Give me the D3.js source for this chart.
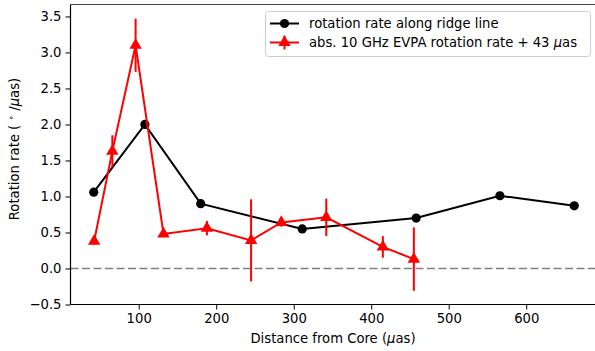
<!DOCTYPE html>
<html><head><meta charset="utf-8">
<script src="https://cdn.jsdelivr.net/npm/d3@7"></script>
<style>body{margin:0;background:#fff}svg{display:block}</style>
</head><body><svg id="c" width="595" height="351"></svg>
<script>
const ridgeX = [42, 108, 180, 311, 458, 566, 662];
const ridgeY = [1.06, 2.00, 0.90, 0.55, 0.70, 1.01, 0.87];
const evpaX = [42.5, 66, 96, 132, 188, 245, 284, 342, 415, 455];
const evpaY = [0.38, 1.63, 3.10, 0.48, 0.56, 0.39, 0.64, 0.71, 0.30, 0.13];
const evpaErr = [0.05, 0.22, 0.37, 0.03, 0.10, 0.57, 0.06, 0.26, 0.15, 0.44];
const xTicks = [100, 200, 300, 400, 500, 600];
const yTicks = [-0.5, 0.0, 0.5, 1.0, 1.5, 2.0, 2.5, 3.0, 3.5];
const legendLabels = ["rotation rate along ridge line", "abs. 10 GHz EVPA rotation rate + 43 "];

const FONT = "DejaVu Sans";
const FS = "13.2px";
const svg = d3.select("#c");
const L = 70.5, R = 620, T = 4.5, B = 304.5;
const x = d3.scaleLinear().domain([12, 721]).range([L, R]);
const y = d3.scaleLinear().domain([-0.5, 3.666]).range([B, T]);

// zero line
svg.append("line").attr("x1", L).attr("x2", R).attr("y1", y(0)).attr("y2", y(0))
  .attr("stroke", "#808080").attr("stroke-width", 1.5).attr("stroke-dasharray", "8,3.5");

// axes
const fmt = d => d3.format(".1f")(d).replace("-", "\u2212");
const xa = svg.append("g").attr("transform", `translate(0,${B})`)
  .call(d3.axisBottom(x).tickValues(xTicks).tickSize(5).tickPadding(4).tickFormat(d3.format("d")));
const ya = svg.append("g").attr("transform", `translate(${L},0)`)
  .call(d3.axisLeft(y).tickValues(yTicks).tickSize(5).tickPadding(4).tickFormat(fmt));
[xa, ya].forEach(g => {
  g.select(".domain").remove();
  g.selectAll("text").style("font-size", FS).style("font-family", FONT).attr("fill", "#000");
  g.selectAll("line").attr("stroke", "#000").attr("stroke-width", 1);
});
// spines
svg.append("line").attr("x1", L).attr("x2", L).attr("y1", T).attr("y2", B).attr("stroke", "#000").attr("stroke-width", 1.2);
svg.append("line").attr("x1", L).attr("x2", 595).attr("y1", B).attr("y2", B).attr("stroke", "#000").attr("stroke-width", 1.2);
svg.append("line").attr("x1", L).attr("x2", 595).attr("y1", T).attr("y2", T).attr("stroke", "#444").attr("stroke-width", 1.2);

// labels
const xl = svg.append("text").attr("x", 333).attr("y", 343).attr("text-anchor", "middle")
  .style("font-size", FS).style("font-family", FONT);
xl.append("tspan").text("Distance from Core (");
xl.append("tspan").style("font-style", "italic").text("\u03bc");
xl.append("tspan").text("as)");
const yl = svg.append("text").attr("transform", `translate(19,149) rotate(-90)`).attr("text-anchor", "middle")
  .style("font-size", FS).style("font-family", FONT);
yl.append("tspan").text("Rotation rate ( ");
yl.append("tspan").attr("dy", -5).style("font-size", "9px").text("\u2218");
yl.append("tspan").attr("dy", 5).text(" /");
yl.append("tspan").style("font-style", "italic").text("\u03bc");
yl.append("tspan").text("as)");

const line = d3.line().x(d => x(d[0])).y(d => y(d[1]));
const tri = d3.symbol().type(d3.symbolTriangle).size(66);

// ridge series
svg.append("path").datum(d3.zip(ridgeX, ridgeY)).attr("d", line)
  .attr("fill", "none").attr("stroke", "#000").attr("stroke-width", 2);
svg.selectAll(".rc").data(d3.zip(ridgeX, ridgeY)).join("circle")
  .attr("cx", d => x(d[0])).attr("cy", d => y(d[1])).attr("r", 4.6).attr("fill", "#000");

// evpa series
const ev = evpaX.map((v, i) => [v, evpaY[i], evpaErr[i]]);
svg.selectAll(".eb").data(ev).join("line")
  .attr("x1", d => x(d[0])).attr("x2", d => x(d[0]))
  .attr("y1", d => y(d[1] - d[2])).attr("y2", d => y(d[1] + d[2]))
  .attr("stroke", "#f00").attr("stroke-width", 2);
svg.append("path").datum(ev).attr("d", line)
  .attr("fill", "none").attr("stroke", "#f00").attr("stroke-width", 2);
svg.selectAll(".tr").data(ev).join("path").attr("d", tri)
  .attr("transform", d => `translate(${x(d[0])},${y(d[1])})`).attr("fill", "#f00");

// legend
const lg = svg.append("g");
lg.append("rect").attr("x", 265.5).attr("y", 11.5).attr("width", 325).attr("height", 45).attr("rx", 3)
  .attr("fill", "#fff").attr("fill-opacity", 0.8).attr("stroke", "#ccc").attr("stroke-width", 1);
const ly = [23.5, 42.5];
lg.append("line").attr("x1", 270).attr("x2", 299).attr("y1", ly[0]).attr("y2", ly[0]).attr("stroke", "#000").attr("stroke-width", 2);
lg.append("circle").attr("cx", 284.5).attr("cy", ly[0]).attr("r", 4.6).attr("fill", "#000");
lg.append("line").attr("x1", 270).attr("x2", 299).attr("y1", ly[1]).attr("y2", ly[1]).attr("stroke", "#f00").attr("stroke-width", 2);
lg.append("line").attr("x1", 284.5).attr("x2", 284.5).attr("y1", ly[1] - 7).attr("y2", ly[1] + 7).attr("stroke", "#f00").attr("stroke-width", 2);
lg.append("path").attr("d", tri).attr("transform", `translate(284.5,${ly[1]})`).attr("fill", "#f00");
legendLabels.forEach((t, i) => {
  const tx = lg.append("text").attr("x", 309).attr("y", ly[i] + 4.5)
    .style("font-size", FS).style("font-family", FONT);
  tx.append("tspan").text(t);
  if (i === 1) {
    tx.append("tspan").style("font-style", "italic").text("\u03bc");
    tx.append("tspan").text("as");
  }
});
</script></body></html>
